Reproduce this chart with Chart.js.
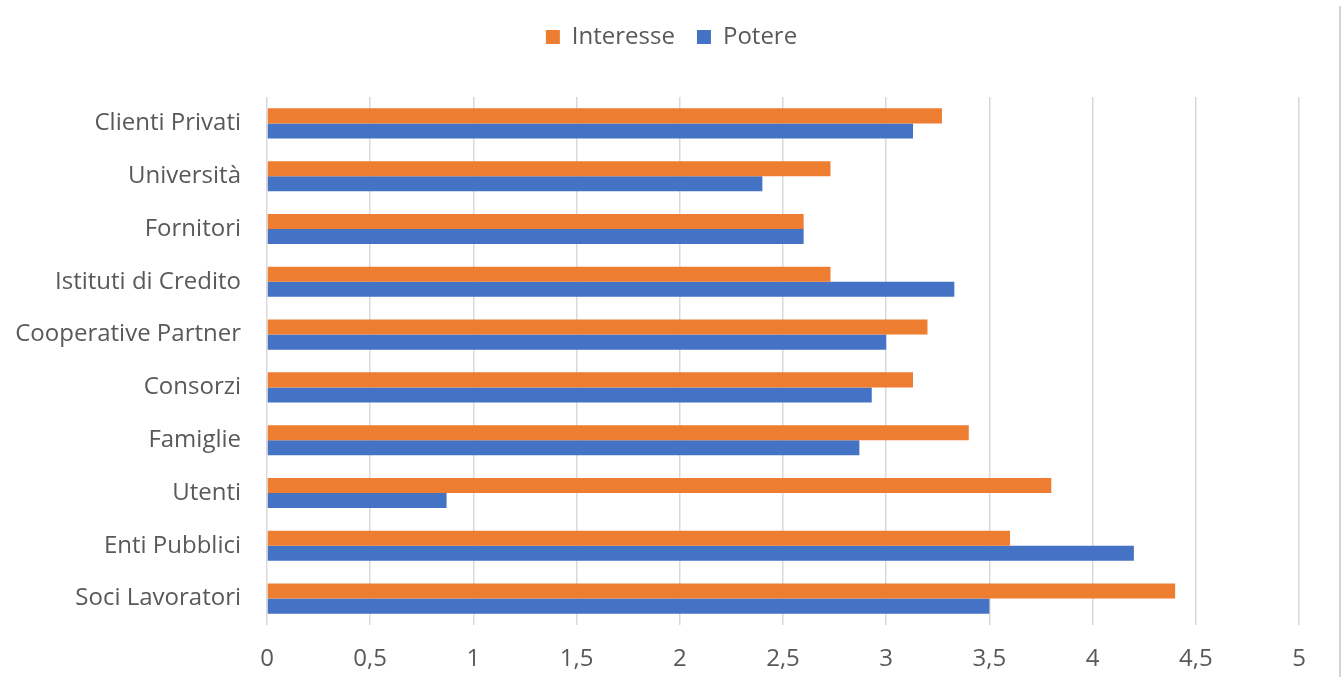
<!DOCTYPE html>
<html>
<head>
<meta charset="utf-8">
<script src="https://cdn.jsdelivr.net/npm/chart.js@4/dist/chart.umd.min.js"></script>
<style>
  html, body { margin: 0; padding: 0; background: #fff; }
  #wrap { width: 1343px; height: 677px; position: relative; }
  #edge { position: absolute; left: 1339px; top: 6px; width: 2px; height: 671px; background: #d4d4d4; }
</style>
</head>
<body>
<div id="wrap"><canvas id="chart"></canvas><div id="edge"></div></div>
<script>
var categories = ['Clienti Privati', 'Università', 'Fornitori', 'Istituti di Credito', 'Cooperative Partner',
    'Consorzi', 'Famiglie', 'Utenti', 'Enti Pubblici', 'Soci Lavoratori'];
var interesse = [3.27, 2.73, 2.60, 2.73, 3.20, 3.13, 3.40, 3.80, 3.60, 4.40];
var potere = [3.13, 2.40, 2.60, 3.33, 3.00, 2.93, 2.87, 0.87, 4.20, 3.50];

var textColor = '#595959';
var fontFamily = "'Open Sans', 'Liberation Sans', sans-serif";

// push the plot area down, away from the legend
var legendGap = {
    id: 'legendGap',
    beforeInit: function (chart) {
        var fit = chart.legend.fit;
        chart.legend.fit = function () {
            fit.bind(chart.legend)();
            this.height += 38;
        };
    }
};

var ctx = document.getElementById('chart').getContext('2d');

new Chart(ctx, {
    type: 'bar',
    data: {
        labels: categories,
        datasets: [
            {
                label: 'Interesse',
                data: interesse,
                backgroundColor: '#ED7D31',
                borderWidth: 0
            },
            {
                label: 'Potere',
                data: potere,
                backgroundColor: '#4472C4',
                borderWidth: 0
            }
        ]
    },
    options: {
        indexAxis: 'y',
        responsive: true,
        maintainAspectRatio: false,
        animation: false,
        datasets: {
            bar: {
                categoryPercentage: 0.57,
                barPercentage: 1.0
            }
        },
        layout: {
            padding: { top: 3, right: 0, bottom: 0, left: 0 }
        },
        plugins: {
            legend: {
                position: 'top',
                labels: {
                    boxWidth: 14,
                    boxHeight: 14,
                    padding: 22,
                    color: textColor,
                    font: { family: fontFamily, size: 24 }
                }
            },
            tooltip: { enabled: false }
        },
        scales: {
            x: {
                min: 0,
                max: 5,
                ticks: {
                    stepSize: 0.5,
                    color: textColor,
                    padding: 20,
                    font: { family: fontFamily, size: 24 },
                    callback: function (v) { return String(v).replace('.', ','); }
                },
                grid: {
                    color: '#d9d9d9',
                    lineWidth: 1.5,
                    drawTicks: false
                },
                border: { display: false },
                afterFit: function (scale) {
                    scale.height = 52;
                    scale.paddingRight = 44;
                }
            },
            y: {
                ticks: {
                    color: textColor,
                    padding: 26,
                    font: { family: fontFamily, size: 24 }
                },
                grid: { display: false, drawTicks: false },
                border: { display: false },
                afterFit: function (scale) { scale.width = 267; }
            }
        }
    },
    plugins: [legendGap]
});
</script>
</body>
</html>
